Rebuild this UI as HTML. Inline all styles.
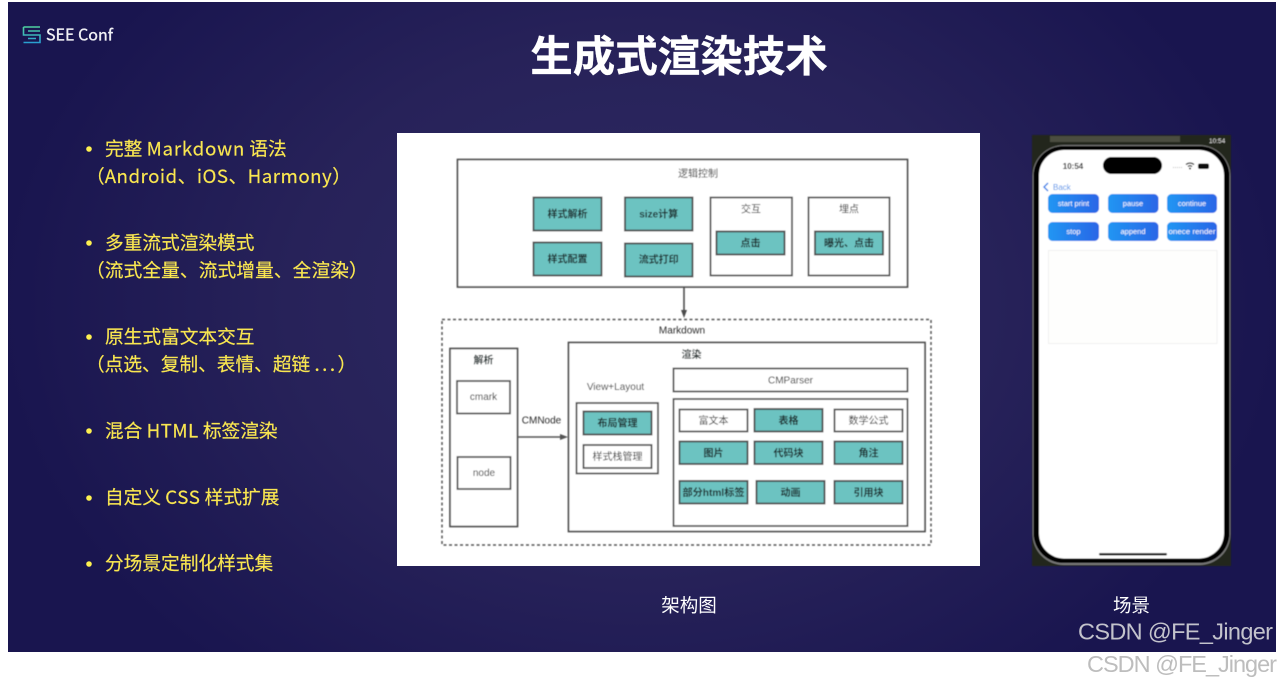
<!DOCTYPE html>
<html><head><meta charset="utf-8">
<style>
html,body{margin:0;padding:0;background:#fff;width:1282px;height:684px;overflow:hidden}
svg{display:block}
text{font-family:"Liberation Sans","Noto Sans CJK SC",sans-serif}
.li{fill:#f9e650;font-size:18.7px;font-family:"Noto Sans CJK SC","Liberation Sans",sans-serif;stroke:#f9e650;stroke-width:.18}
.d{font-size:10px;fill:#2c2c2c;text-anchor:middle}
.b{font-weight:700;fill:#1f2c2c}
.box{fill:#fff;stroke:#4c4c4c;stroke-width:1.7}
.t{fill:#6cc3c1;stroke:#4c4c4c;stroke-width:1.8}
.btn{font-size:7.5px;fill:#fff;text-anchor:middle}
</style></head><body>
<svg width="1282" height="684" viewBox="0 0 1282 684" xmlns="http://www.w3.org/2000/svg">
<defs>
<radialGradient id="bg" gradientUnits="userSpaceOnUse" cx="640" cy="300" r="640" gradientTransform="translate(0 80) scale(1 .75)">
<stop offset="0" stop-color="#2e2a63"/><stop offset=".55" stop-color="#272259"/><stop offset="1" stop-color="#19154f"/></radialGradient>
<linearGradient id="bt" x1="0" x2="1" y1="0" y2="0"><stop offset="0" stop-color="#2196f3"/><stop offset="1" stop-color="#2a66e6"/></linearGradient>
<linearGradient id="lg" x1="0" x2="0" y1="0" y2="1"><stop offset="0" stop-color="#4fd0a0"/><stop offset="1" stop-color="#2a9fd0"/></linearGradient>
<filter id="s" x="-5%" y="-5%" width="110%" height="110%"><feGaussianBlur stdDeviation=".45"/></filter>
</defs>
<rect x="8" y="2" width="1268" height="650" fill="url(#bg)"/>

<!-- logo -->
<g fill="none" stroke="url(#lg)" stroke-width="1.6">
<path d="M23.5 27H40M23.500 27V35H40V42.500H23.500M28 31H40M28 38.500H36"/>
</g>
<text x="46" y="40.500" font-size="16" fill="#f2f2f6" stroke="#f2f2f6" stroke-width=".35" textLength="67" lengthAdjust="spacing" style='font-family:"Noto Sans CJK SC",sans-serif'>SEE Conf</text>

<text x="679" y="71.500" font-size="42.500" font-weight="700" fill="#fff" stroke="#fff" stroke-width=".3" text-anchor="middle" style='font-family:"Noto Sans CJK SC",sans-serif'>生成式渲染技术</text>

<!-- bullets -->
<g fill="#fdf050">
<circle cx="89" cy="149" r="2.800"/><circle cx="89" cy="243" r="2.800"/><circle cx="89" cy="337" r="2.800"/>
<circle cx="89" cy="431" r="2.800"/><circle cx="89" cy="498" r="2.800"/><circle cx="89" cy="564" r="2.800"/>
</g>
<text class="li" x="105" y="155.500">完整 <tspan letter-spacing=".8">Markdown</tspan> 语法</text>
<text class="li" x="86" y="183">（<tspan letter-spacing=".5">Android、iOS、Harmony</tspan>）</text>
<text class="li" x="105" y="249.500">多重流式渲染模式</text>
<text class="li" x="86" y="277" letter-spacing=".1">（流式全量、流式增量、全渲染）</text>
<text class="li" x="105" y="343.500">原生式富文本交互</text>
<text class="li" x="86" y="371">（点选、复制、表情、超链 <tspan letter-spacing="2.500">...</tspan>）</text>
<text class="li" x="105" y="437.500">混合 <tspan letter-spacing=".5">HTML</tspan> 标签渲染</text>
<text class="li" x="105" y="504">自定义 <tspan letter-spacing=".6">CSS</tspan> 样式扩展</text>
<text class="li" x="105" y="570">分场景定制化样式集</text>

<!-- diagram -->
<rect x="397" y="133" width="583" height="433" fill="#fff"/>
<g filter="url(#s)">
<rect class="box" x="457.500" y="159.500" width="450" height="127.500"/>
<text class="d" x="698" y="177">逻辑控制</text>
<rect class="t" x="533.500" y="197.500" width="68" height="33"/><text class="d b" x="567.500" y="217.500">样式解析</text>
<rect class="t" x="533.500" y="242.500" width="68" height="33"/><text class="d b" x="567.500" y="262.500">样式配置</text>
<rect class="t" x="625" y="197.500" width="67.500" height="33"/><text class="d b" x="658.700" y="217.500">size计算</text>
<rect class="t" x="625" y="243.500" width="67.500" height="33"/><text class="d b" x="658.700" y="263">流式打印</text>
<rect class="box" x="710.500" y="197.500" width="81.500" height="78"/><text class="d" x="751" y="212.500">交互</text>
<rect class="t" x="716.500" y="231.500" width="68" height="23"/><text class="d b" x="750.500" y="246.500">点击</text>
<rect class="box" x="808.500" y="197.500" width="81" height="78"/><text class="d" x="849" y="212.500">埋点</text>
<rect class="t" x="815" y="231.500" width="68" height="23"/><text class="d b" x="849" y="246.500">曝光、点击</text>

<path d="M684 287V311" stroke="#4c4c4c" stroke-width="1.600" fill="none"/>
<path d="M681 310H687L684 318Z" fill="#4c4c4c"/>

<rect x="442" y="319.500" width="489" height="225.500" fill="none" stroke="#555" stroke-width="1.500" stroke-dasharray="3 2.500"/>
<text class="d" x="682" y="333.500">Markdown</text>

<rect class="box" x="450" y="348.500" width="67.500" height="178"/><text class="d b" x="483.500" y="363.500">解析</text>
<rect class="box" x="457" y="381" width="53" height="32.500"/><text class="d" x="483.500" y="400">cmark</text>
<rect class="box" x="457.500" y="457" width="53" height="32"/><text class="d" x="484" y="476">node</text>
<text class="d" x="541.500" y="423.500">CMNode</text>
<path d="M517.500 437H561" stroke="#555" stroke-width="1.400" fill="none"/>
<path d="M560 434V440L568 437Z" fill="#555"/>

<rect class="box" x="568.500" y="342.500" width="356.500" height="189"/><text class="d b" x="691.500" y="358">渲染</text>
<text class="d" x="615.500" y="390">View+Layout</text>
<rect class="box" x="576.500" y="403" width="81.500" height="70.500"/>
<rect class="t" x="583.500" y="411.500" width="68" height="23"/><text class="d b" x="617.500" y="426.500">布局管理</text>
<rect class="box" x="583.500" y="445" width="68" height="23"/><text class="d" x="617.500" y="460">样式栈管理</text>

<rect class="box" x="673.500" y="368.500" width="234" height="23"/><text class="d" x="790.500" y="383.500">CMParser</text>
<rect class="box" x="673.500" y="399" width="234" height="127"/>

<rect class="box" x="679.500" y="409.500" width="68" height="22"/><text class="d" x="713.500" y="424">富文本</text>
<rect class="t" x="754.500" y="409" width="68" height="22.500"/><text class="d b" x="788.500" y="424">表格</text>
<rect class="box" x="834.500" y="409.500" width="68" height="22"/><text class="d" x="868.500" y="424">数学公式</text>
<rect class="t" x="679.500" y="441.500" width="68" height="22.500"/><text class="d b" x="713.500" y="456.500">图片</text>
<rect class="t" x="754.500" y="441.500" width="68" height="22.500"/><text class="d b" x="788.500" y="456.500">代码块</text>
<rect class="t" x="834.500" y="441.500" width="68" height="22.500"/><text class="d b" x="868.500" y="456.500">角注</text>
<rect class="t" x="679.500" y="481" width="68" height="22.500"/><text class="d b" x="713.500" y="496" textLength="62" lengthAdjust="spacingAndGlyphs">部分html标签</text>
<rect class="t" x="756.500" y="481" width="68" height="22.500"/><text class="d b" x="790.500" y="496">动画</text>
<rect class="t" x="834.500" y="481" width="68" height="22.500"/><text class="d b" x="868.500" y="496">引用块</text>
</g>

<!-- phone -->
<g filter="url(#s)">
<rect x="1032" y="135" width="199" height="431" fill="#24261a"/>
<rect x="1050" y="136" width="130" height="6" fill="#5e5e50" opacity=".7"/>
<text x="1209" y="143" font-size="6.500" fill="#ddd">10:54</text>
<rect x="1032.500" y="145" width="198" height="420" rx="31" fill="#777"/>
<rect x="1033.500" y="146" width="196" height="417" rx="30" fill="#000"/>
<rect x="1039" y="150" width="185" height="408.500" rx="25" fill="#fff"/>
<rect x="1103" y="157" width="59" height="17" rx="8.500" fill="#000"/>
<text x="1073" y="169" font-size="8" font-weight="700" fill="#222" text-anchor="middle">10:54</text>
<path d="M1173 167.500h9" stroke="#bbb" stroke-width="1" stroke-dasharray="1 1"/>
<path d="M1186 164.500q4-3 8 0M1188 166.500q2-1.500 4 0" stroke="#111" stroke-width="1.300" fill="none"/>
<circle cx="1190" cy="168.500" r="1" fill="#111"/>
<rect x="1198" y="163.500" width="11" height="5.500" rx="2" fill="#111"/>
<path d="M1048 183L1044 187L1048 191" stroke="#2f7fe8" stroke-width="1.400" fill="none"/>
<text x="1053" y="190" font-size="8" fill="#4a90e8">Back</text>
<rect x="1048" y="194" width="51" height="19" rx="4.500" fill="url(#bt)"/><text class="btn" x="1073.500" y="206">start print</text>
<rect x="1108" y="194" width="50.500" height="19" rx="4.500" fill="url(#bt)"/><text class="btn" x="1133" y="206">pause</text>
<rect x="1167" y="194" width="50" height="19" rx="4.500" fill="url(#bt)"/><text class="btn" x="1192" y="206">continue</text>
<rect x="1048" y="222" width="51" height="19" rx="4.500" fill="url(#bt)"/><text class="btn" x="1073.500" y="234">stop</text>
<rect x="1108" y="222" width="50.500" height="19" rx="4.500" fill="url(#bt)"/><text class="btn" x="1133" y="234">append</text>
<rect x="1167" y="222" width="50" height="19" rx="4.500" fill="url(#bt)"/><text class="btn" x="1192" y="234" textLength="47" lengthAdjust="spacingAndGlyphs">onece render</text>
<rect x="1048.500" y="250.500" width="168.500" height="93" fill="#fefefd" stroke="#f0f0f0" stroke-width="1"/>
<rect x="1099" y="553" width="68" height="2.500" rx="1.200" fill="#222"/>
</g>

<text x="689" y="612" font-size="18.500" fill="#fff" text-anchor="middle" style='font-family:"Noto Sans CJK SC",sans-serif'>架构图</text>
<text x="1131.500" y="612" font-size="18.500" fill="#fff" text-anchor="middle" style='font-family:"Noto Sans CJK SC",sans-serif'>场景</text>

<text x="1078" y="639.500" font-size="23.500" fill="#c3c3cc" textLength="195" lengthAdjust="spacing">CSDN @FE_Jinger</text>
<text x="1087" y="672" font-size="23.500" fill="#bdbdbd" textLength="190" lengthAdjust="spacing">CSDN @FE_Jinger</text>
</svg>
</body></html>
